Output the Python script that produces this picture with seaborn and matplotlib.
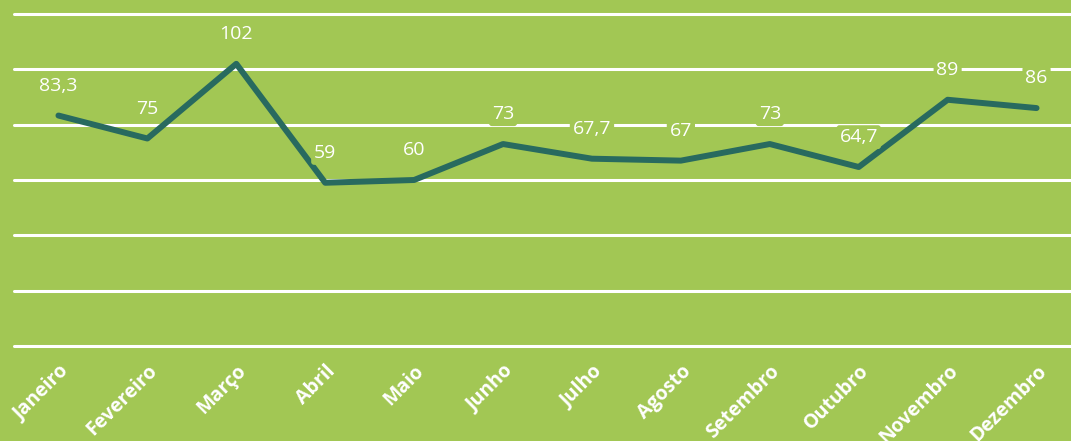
import pandas as pd
import matplotlib.pyplot as plt
import seaborn as sns

meses = ['Janeiro', 'Fevereiro', 'Março', 'Abril', 'Maio', 'Junho', 'Julho',
         'Agosto', 'Setembro', 'Outubro', 'Novembro', 'Dezembro']
valores = [83.3, 75, 102, 59, 60, 73, 67.7, 67, 73, 64.7, 89, 86]

fundo = '#A2C754'
cor_linha = '#286A5F'

df = pd.DataFrame({'mes': meses, 'valor': valores})

sns.set_theme(style="white")
plt.rcParams['font.family'] = ['Open Sans', 'DejaVu Sans']

fig = plt.figure(figsize=(10.71, 4.41), dpi=100, facecolor=fundo)
ax = fig.add_axes([14 / 1071, 95 / 441, 1067 / 1071, 332 / 441])
ax.set_facecolor(fundo)

sns.lineplot(data=df, x='mes', y='valor', sort=False, color=cor_linha,
             linewidth=4.3, ax=ax, zorder=3, solid_capstyle='round')

ax.set_ylim(0, 120)
ax.set_xlim(-0.5, len(meses) - 0.5)
ax.set_yticks(range(0, 121, 20))
ax.yaxis.grid(True, color='white', linewidth=2.2)
for g in ax.get_ygridlines():
    g.set_clip_on(False)
ax.set_axisbelow(True)
ax.tick_params(axis='y', left=False, labelleft=False)
ax.tick_params(axis='x', bottom=False, pad=5)
for s in ax.spines.values():
    s.set_visible(False)
ax.set_xlabel('')
ax.set_ylabel('')

ax.set_xticks(range(len(meses)))
ax.set_xticklabels(meses, rotation=45, ha='right', rotation_mode='anchor',
                   color='white', fontsize=14, fontweight='bold')

for i, v in enumerate(valores):
    txt = f'{v:g}'.replace('.', ',')
    ax.annotate(txt, (i, v), xytext=(0, 21.5), textcoords='offset points',
                ha='center', va='center', color='white', fontsize=14,
                zorder=4,
                bbox=dict(boxstyle='round,pad=0.15', fc=fundo, ec='none'))

fig.savefig('out.png', dpi=100, facecolor=fundo)
